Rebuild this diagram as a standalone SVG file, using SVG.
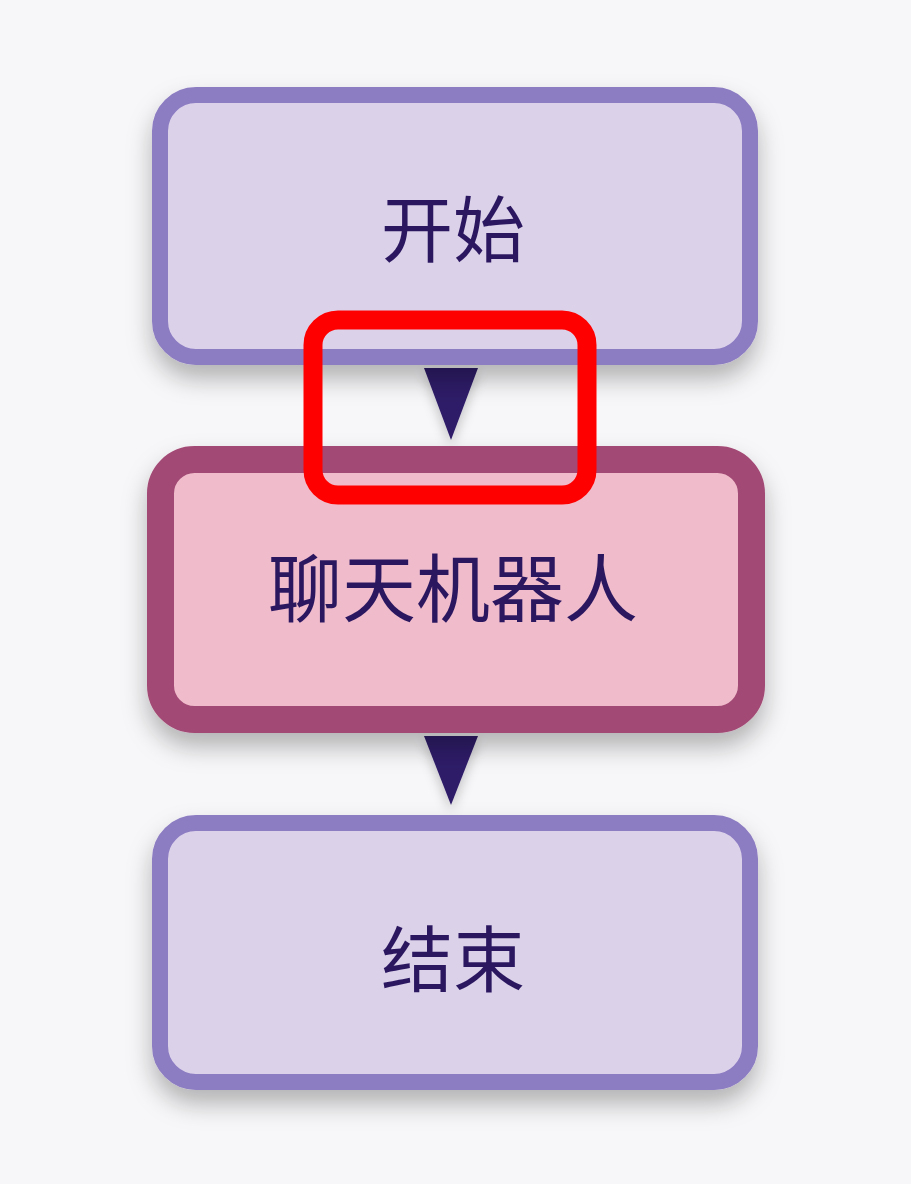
<svg xmlns="http://www.w3.org/2000/svg" width="911" height="1184" viewBox="0 0 911 1184">
  <defs>
    <filter id="shadow" x="-15%" y="-20%" width="130%" height="160%">
      <feDropShadow dx="0" dy="14" stdDeviation="12" flood-color="#000" flood-opacity="0.28"/>
    </filter>
    <filter id="ashadow" x="-100%" y="-50%" width="300%" height="250%">
      <feDropShadow dx="0" dy="6" stdDeviation="6" flood-color="#000" flood-opacity="0.22"/>
    </filter>
    <style>
      .lav { fill: #dbd2ea; stroke: #8c7bc2; stroke-width: 16; }
      .pink { fill: #f0bccb; stroke: #a24a74; stroke-width: 27; }
      .lbl { font-family: "Noto Sans CJK SC", "Noto Sans", sans-serif; fill: #2b1660; text-anchor: middle; }
      .arrow { fill: #2e1b68; }
    </style>
  </defs>
  <rect width="911" height="1184" fill="#f7f6f8"/>
  <g id="connectors">
    <polygon class="arrow" points="424,368 478,368 451,440" filter="url(#ashadow)"/>
    <polygon class="arrow" points="424,736 478,736 451,805" filter="url(#ashadow)"/>
  </g>
  <g id="node-start">
    <rect class="lav" x="160" y="95" width="590" height="262" rx="36" filter="url(#shadow)"/>
    <text class="lbl" x="453" y="256" font-size="72">开始</text>
  </g>
  <g id="node-chatbot">
    <rect class="pink" x="160.5" y="459.5" width="591" height="260" rx="34" filter="url(#shadow)"/>
    <text class="lbl" x="453" y="616" font-size="74">聊天机器人</text>
  </g>
  <g id="node-end">
    <rect class="lav" x="160" y="823" width="590" height="259" rx="36" filter="url(#shadow)"/>
    <text class="lbl" x="453" y="986" font-size="72">结束</text>
  </g>
  <g id="highlight">
    <rect x="313" y="320" width="274" height="175" rx="25" fill="none" stroke="#ff0000" stroke-width="19"/>
  </g>
</svg>
